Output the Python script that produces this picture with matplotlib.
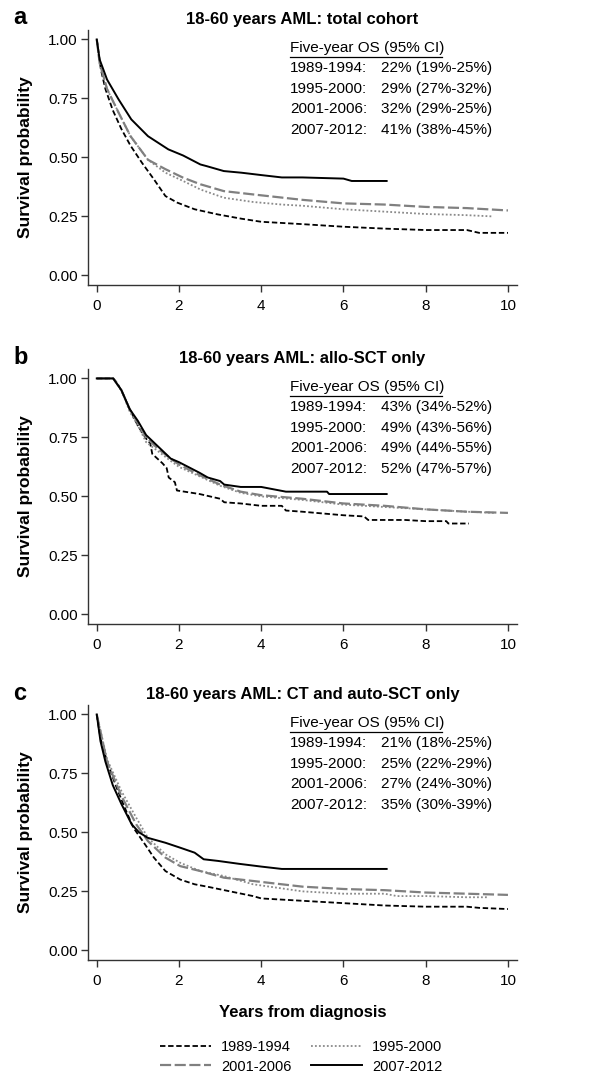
import matplotlib
matplotlib.use("Agg")
import matplotlib.pyplot as plt

plt.rcParams['font.family'] = ['Liberation Sans', 'DejaVu Sans']

periods = ["1989-1994", "1995-2000", "2001-2006", "2007-2012"]

# ---- Panel a: total cohort ----
a_t_8994 = [0, 0.1, 0.21, 0.39, 0.6, 0.82, 1.1, 1.39, 1.67, 1.96, 2.38, 2.95, 3.52, 4.0, 5.0, 6.0, 7.0, 8.0, 9.0, 9.3, 10.0]
a_s_8994 = [1.0, 0.873, 0.79, 0.70, 0.62, 0.55, 0.477, 0.407, 0.336, 0.308, 0.28, 0.258, 0.24, 0.227, 0.217, 0.206, 0.198, 0.192, 0.192, 0.18, 0.18]
a_t_9500 = [0, 0.07, 0.25, 0.53, 0.82, 1.245, 1.67, 2.1, 2.52, 3.09, 3.8, 4.5, 5.0, 6.0, 7.0, 8.0, 9.0, 9.6]
a_s_9500 = [1.0, 0.90, 0.79, 0.69, 0.59, 0.49, 0.435, 0.40, 0.364, 0.329, 0.311, 0.30, 0.295, 0.28, 0.27, 0.26, 0.255, 0.25]
a_t_0106 = [0, 0.07, 0.25, 0.53, 0.82, 1.245, 1.67, 2.1, 2.52, 3.09, 3.8, 5.0, 6.0, 7.0, 8.0, 9.0, 10.0]
a_s_0106 = [1.0, 0.90, 0.79, 0.69, 0.59, 0.49, 0.45, 0.414, 0.386, 0.357, 0.343, 0.32, 0.305, 0.30, 0.29, 0.285, 0.275]
a_t_0712 = [0, 0.07, 0.25, 0.53, 0.84, 1.245, 1.74, 2.1, 2.52, 2.67, 3.09, 3.52, 4.0, 4.5, 5.0, 6.0, 6.2, 7.05]
a_s_0712 = [1.0, 0.915, 0.83, 0.746, 0.661, 0.59, 0.534, 0.508, 0.47, 0.463, 0.442, 0.435, 0.425, 0.415, 0.415, 0.41, 0.40, 0.40]

# ---- Panel b: allo-SCT only ----
b_t_8994 = [0, 0.4, 0.5, 0.65, 0.8, 1.0, 1.2, 1.3, 1.35, 1.6, 1.7, 1.75, 1.9, 1.95, 2.5, 3.0, 3.1, 3.5, 4.0, 4.5, 4.6, 5.0, 6.0, 6.5, 6.6, 7.5, 8.0, 8.5, 8.55, 9.05]
b_s_8994 = [1.0, 1.0, 0.98, 0.93, 0.87, 0.80, 0.745, 0.725, 0.68, 0.64, 0.62, 0.58, 0.56, 0.525, 0.51, 0.49, 0.475, 0.47, 0.46, 0.46, 0.44, 0.435, 0.42, 0.415, 0.40, 0.40, 0.395, 0.395, 0.385, 0.385]
b_t_9500 = [0, 0.4, 0.6, 0.8, 1.0, 1.2, 1.5, 1.8, 2.0, 2.5, 3.0, 3.5, 4.0, 5.0, 6.0, 7.0, 8.0, 9.0, 9.7]
b_s_9500 = [1.0, 1.0, 0.95, 0.86, 0.80, 0.73, 0.69, 0.65, 0.625, 0.585, 0.545, 0.515, 0.50, 0.485, 0.465, 0.455, 0.445, 0.435, 0.43]
b_t_0106 = [0, 0.4, 0.6, 0.8, 1.0, 1.2, 1.5, 1.8, 2.0, 2.5, 3.0, 3.5, 4.0, 5.0, 6.0, 7.0, 8.0, 9.0, 10.0]
b_s_0106 = [1.0, 1.0, 0.95, 0.87, 0.81, 0.75, 0.70, 0.66, 0.635, 0.59, 0.55, 0.52, 0.505, 0.49, 0.47, 0.46, 0.445, 0.435, 0.43]
b_t_0712 = [0, 0.4, 0.6, 0.8, 1.0, 1.2, 1.5, 1.8, 2.0, 2.5, 2.7, 3.0, 3.1, 3.5, 4.0, 4.3, 4.6, 5.0, 5.6, 5.65, 7.05]
b_s_0712 = [1.0, 1.0, 0.95, 0.87, 0.82, 0.76, 0.71, 0.66, 0.645, 0.60, 0.58, 0.565, 0.55, 0.54, 0.54, 0.53, 0.52, 0.52, 0.52, 0.51, 0.51]

# ---- Panel c: CT and auto-SCT only ----
c_t_8994 = [0, 0.09, 0.25, 0.46, 0.68, 0.89, 1.17, 1.39, 1.67, 2.03, 2.38, 2.74, 3.24, 3.8, 4.0, 5.0, 6.0, 7.0, 8.0, 9.0, 9.3, 10.0]
c_s_8994 = [1.0, 0.90, 0.80, 0.70, 0.605, 0.52, 0.45, 0.393, 0.336, 0.30, 0.28, 0.268, 0.25, 0.23, 0.22, 0.21, 0.20, 0.19, 0.185, 0.185, 0.18, 0.175]
c_t_9500 = [0, 0.25, 0.6, 0.96, 1.245, 1.67, 2.03, 2.52, 3.09, 3.8, 5.0, 6.0, 7.0, 7.3, 8.0, 9.0, 9.5]
c_s_9500 = [1.0, 0.81, 0.675, 0.562, 0.477, 0.407, 0.371, 0.336, 0.315, 0.28, 0.25, 0.24, 0.24, 0.23, 0.23, 0.225, 0.225]
c_t_0106 = [0, 0.25, 0.6, 0.96, 1.245, 1.67, 2.03, 2.52, 3.09, 3.8, 5.0, 6.0, 7.0, 8.0, 9.0, 10.0]
c_s_0106 = [1.0, 0.80, 0.654, 0.534, 0.463, 0.393, 0.357, 0.336, 0.308, 0.294, 0.27, 0.26, 0.255, 0.245, 0.24, 0.235]
c_t_0712 = [0, 0.09, 0.21, 0.39, 0.6, 0.85, 1.03, 1.24, 1.67, 2.03, 2.38, 2.6, 2.95, 3.45, 4.0, 4.5, 7.05]
c_s_0712 = [1.0, 0.887, 0.80, 0.70, 0.62, 0.534, 0.50, 0.477, 0.456, 0.435, 0.414, 0.386, 0.379, 0.367, 0.355, 0.345, 0.345]

os_a = ["22% (19%-25%)", "29% (27%-32%)", "32% (29%-25%)", "41% (38%-45%)"]
os_b = ["43% (34%-52%)", "49% (43%-56%)", "49% (44%-55%)", "52% (47%-57%)"]
os_c = ["21% (18%-25%)", "25% (22%-29%)", "27% (24%-30%)", "35% (30%-39%)"]

titles = ["18-60 years AML: total cohort", "18-60 years AML: allo-SCT only",
          "18-60 years AML: CT and auto-SCT only"]
letters = ["a", "b", "c"]

panels = [
    [(a_t_8994, a_s_8994), (a_t_9500, a_s_9500), (a_t_0106, a_s_0106), (a_t_0712, a_s_0712)],
    [(b_t_8994, b_s_8994), (b_t_9500, b_s_9500), (b_t_0106, b_s_0106), (b_t_0712, b_s_0712)],
    [(c_t_8994, c_s_8994), (c_t_9500, c_s_9500), (c_t_0106, c_s_0106), (c_t_0712, c_s_0712)],
]
os_texts = [os_a, os_b, os_c]

styles = [
    dict(color="black", linestyle=(0, (3.0, 1.5)), linewidth=1.3),
    dict(color="#8a8a8a", linestyle=(0, (1, 1.2)), linewidth=1.3),
    dict(color="#808080", linestyle=(0, (5.0, 1.6)), linewidth=1.6),
    dict(color="black", linestyle="-", linewidth=1.4),
]

W, H = 593, 1075
fig = plt.figure(figsize=(W / 100, H / 100), dpi=100)

boxes = [(30, 285), (369, 624), (705, 960)]
left_px, right_px = 88, 517
FS = 11

for i, (top, bot) in enumerate(boxes):
    ax = fig.add_axes([left_px / W, 1 - bot / H, (right_px - left_px) / W, (bot - top) / H])
    for (t, s), st in zip(panels[i], styles):
        ax.plot(t, s, **st)
    ax.set_xlim(-0.213, 10.22)
    ax.set_ylim(-0.041, 1.04)
    ax.set_xticks([0, 2, 4, 6, 8, 10])
    ax.set_yticks([0, 0.25, 0.5, 0.75, 1.0])
    ax.set_yticklabels(["0.00", "0.25", "0.50", "0.75", "1.00"])
    ax.spines["top"].set_visible(False)
    ax.spines["right"].set_visible(False)
    for sp in ("left", "bottom"):
        ax.spines[sp].set_color("#333333")
        ax.spines[sp].set_linewidth(1.0)
    ax.tick_params(axis="both", direction="out", length=5, width=1.0, color="#333333",
                   labelsize=FS)
    ax.tick_params(axis="x", pad=5)
    ax.tick_params(axis="y", pad=2.5)
    ax.set_ylabel("Survival probability", fontsize=12.5, fontweight="bold", labelpad=11)
    ax.set_title(titles[i], fontsize=12, fontweight="bold", pad=4.5)
    fig.text(13 / W, 1 - (top - 12) / H, letters[i], fontsize=17, fontweight="bold",
             ha="left", va="center")
    y0 = top + 18
    fig.text(290 / W, 1 - y0 / H, "Five-year OS (95% CI)", fontsize=FS, ha="left", va="center")
    fig.add_artist(plt.Line2D([290 / W, 442 / W], [1 - (y0 + 8.5) / H, 1 - (y0 + 8.5) / H],
                              color="black", linewidth=0.9, transform=fig.transFigure))
    for k in range(4):
        yy = y0 + 20.4 * (k + 1)
        fig.text(290 / W, 1 - yy / H, periods[k] + ":", fontsize=FS, ha="left", va="center")
        fig.text(381 / W, 1 - yy / H, os_texts[i][k], fontsize=FS, ha="left", va="center")
    if i == 2:
        ax.set_xlabel("Years from diagnosis", fontsize=12, fontweight="bold", labelpad=12)

handles = [plt.Line2D([], [], **st) for st in styles]
order = [0, 2, 1, 3]
fig.legend([handles[k] for k in order], [periods[k] for k in order],
           loc="center", bbox_to_anchor=(301 / W, 1 - 1057 / H), ncol=2, frameon=False,
           fontsize=10.5, handlelength=3.5, columnspacing=1.3, labelspacing=0.35,
           handletextpad=0.7)

fig.savefig("out.png", dpi=100)
